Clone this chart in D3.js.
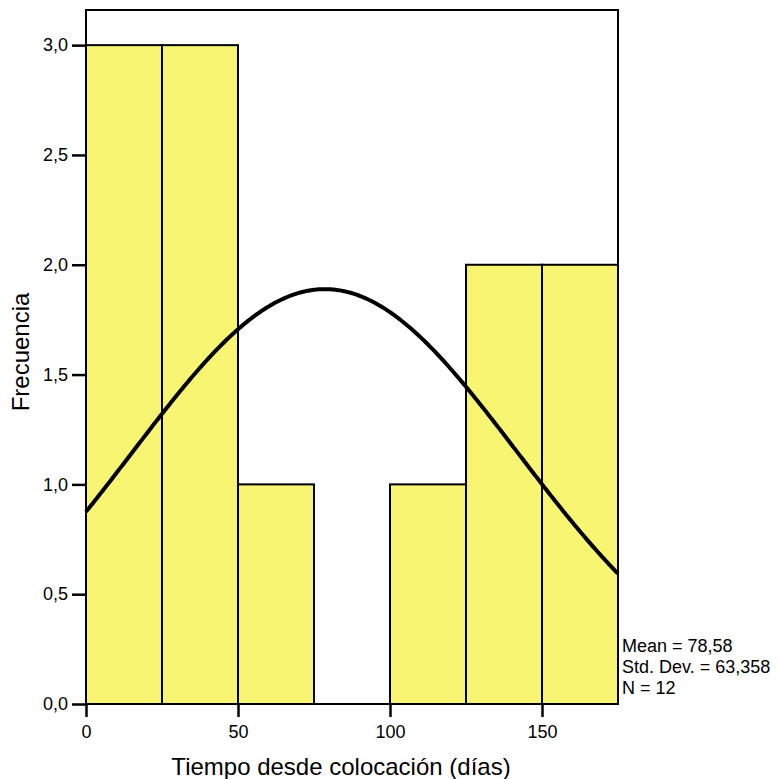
<!DOCTYPE html>
<html>
<head>
<meta charset="utf-8">
<script src="https://cdn.jsdelivr.net/npm/d3@7"></script>
<style>
  body { margin: 0; background: #fff; }
  text { font-family: "Liberation Sans", Arial, sans-serif; fill: #000; }
</style>
</head>
<body>
<svg id="chart"></svg>
<script>
// histogram bins (dias) and counts
const binStarts = [0, 25, 50, 75, 100, 125, 150];
const binWidth = 25;
const counts = [3, 3, 1, 0, 1, 2, 2];
const xTicks = [0, 50, 100, 150];
const yTicks = [0, 0.5, 1.0, 1.5, 2.0, 2.5, 3.0];
// descriptive stats shown in the corner
const statMean = 78.58;
const statSd = 63.358;
const statN = 12;
const statLabels = ["Mean = 78,58", "Std. Dev. = 63,358", "N = 12"];

const width = 780, height = 779;
const margin = {top: 10, right: 162, bottom: 75, left: 86};

const svg = d3.select("#chart").attr("width", width).attr("height", height);

const x = d3.scaleLinear().domain([0, 175]).range([margin.left, width - margin.right]);
const y = d3.scaleLinear().domain([0, 3.16]).range([height - margin.bottom, margin.top]);

const fmt = d => d3.format(".1f")(d).replace(".", ",");
const fontFam = "Liberation Sans, Arial, sans-serif";

// bars
svg.append("g")
  .selectAll("rect")
  .data(binStarts.map((s, i) => ({s, c: counts[i]})).filter(d => d.c > 0))
  .join("rect")
  .attr("x", d => x(d.s))
  .attr("y", d => y(d.c))
  .attr("width", d => x(d.s + binWidth) - x(d.s))
  .attr("height", d => y(0) - y(d.c))
  .attr("fill", "#f8f572")
  .attr("stroke", "#000")
  .attr("stroke-width", 2);

// normal curve scaled to counts
const curve = d3.range(0, 175.5, 0.5).map(v => [v,
  statN * binWidth / (statSd * Math.sqrt(2 * Math.PI)) * Math.exp(-0.5 * ((v - statMean) / statSd) ** 2)]);
svg.append("path")
  .datum(curve)
  .attr("fill", "none")
  .attr("stroke", "#000")
  .attr("stroke-width", 4)
  .attr("d", d3.line().x(d => x(d[0])).y(d => y(d[1])));

// frame
svg.append("rect")
  .attr("x", x(0)).attr("y", margin.top)
  .attr("width", x(175) - x(0)).attr("height", y(0) - margin.top)
  .attr("fill", "none").attr("stroke", "#000").attr("stroke-width", 2);

// axes
svg.append("g")
  .attr("transform", `translate(0,${y(0)})`)
  .call(d3.axisBottom(x).tickValues(xTicks).tickSize(13).tickPadding(8))
  .call(g => g.select(".domain").remove())
  .call(g => g.selectAll(".tick line").attr("stroke-width", 2.5))
  .call(g => g.selectAll(".tick text").attr("font-size", 18).style("font-family", fontFam));

svg.append("g")
  .attr("transform", `translate(${x(0)},0)`)
  .call(d3.axisLeft(y).tickValues(yTicks).tickFormat(fmt).tickSize(14).tickPadding(4))
  .call(g => g.select(".domain").remove())
  .call(g => g.selectAll(".tick line").attr("stroke-width", 2.5))
  .call(g => g.selectAll(".tick text").attr("font-size", 18).style("font-family", fontFam));

// axis titles
svg.append("text")
  .attr("x", 341).attr("y", 775)
  .attr("text-anchor", "middle").attr("font-size", 24)
  .text("Tiempo desde colocación (días)");
svg.append("text")
  .attr("transform", `translate(29,352) rotate(-90)`)
  .attr("text-anchor", "middle").attr("font-size", 24)
  .text("Frecuencia");

// stats
svg.append("g")
  .selectAll("text")
  .data(statLabels)
  .join("text")
  .attr("x", x(175) + 4)
  .attr("y", (d, i) => 652 + i * 21)
  .attr("font-size", 18)
  .text(d => d);
</script>
</body>
</html>
